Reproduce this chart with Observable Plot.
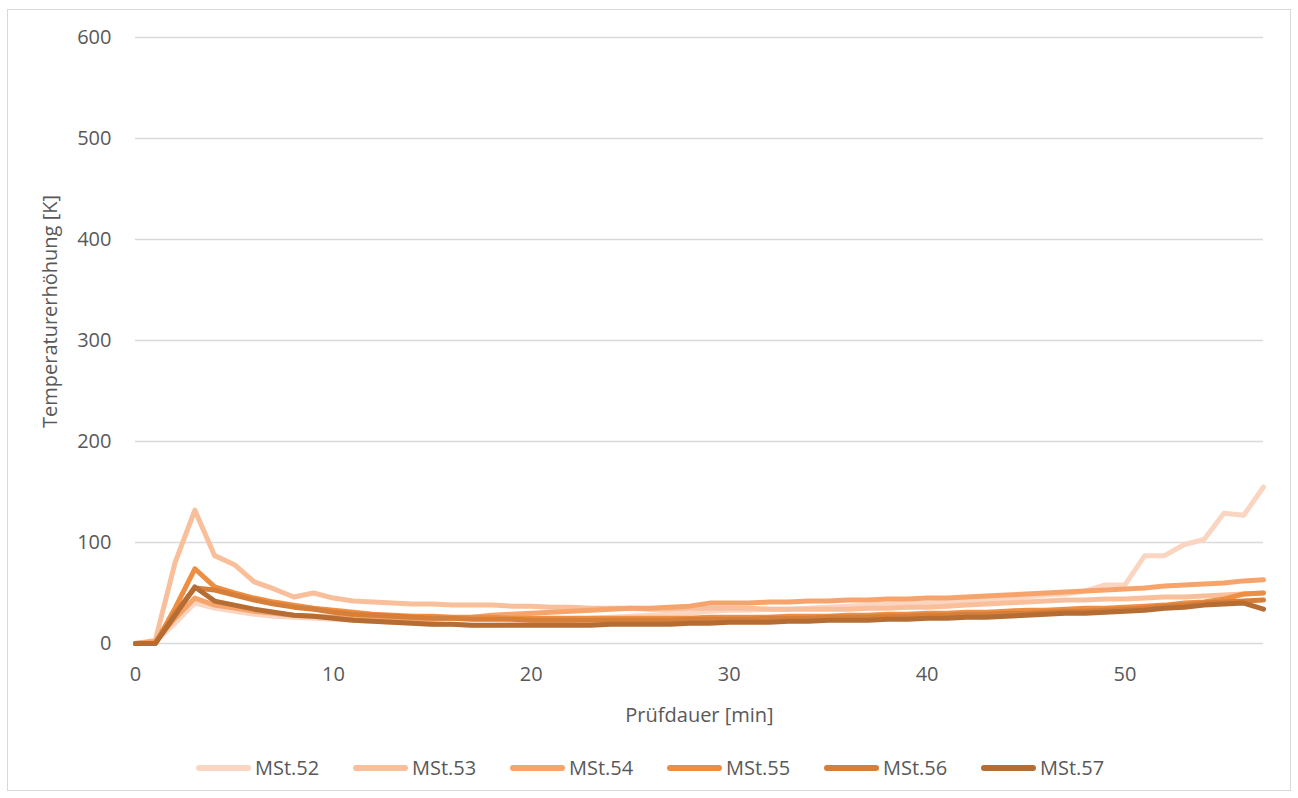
<!DOCTYPE html>
<html>
<head>
<meta charset="utf-8">
<script src="https://cdn.jsdelivr.net/npm/d3@7"></script>
<script src="https://cdn.jsdelivr.net/npm/@observablehq/plot@0.6"></script>
<style>
  html, body { margin: 0; padding: 0; background: #fff; }
  body { width: 1298px; height: 798px; position: relative; overflow: hidden; font-family: "Open Sans", sans-serif; }
  #frame { position: absolute; left: 7px; top: 9px; width: 1284px; height: 782px; border: 1px solid #d9d9d9; box-sizing: border-box; }
  #chart { position: absolute; left: 0; top: 0; }
  #legend { position: absolute; left: 196px; top: 754px; display: flex; }
  .item { display: flex; align-items: center; width: 157px; font-size: 20px; color: #595959; }
  .sw { width: 55px; height: 6px; border-radius: 3px; margin-right: 4px; }
</style>
</head>
<body>
<div id="frame"></div>
<div id="chart"></div>
<div id="legend"></div>
<script>
const minutes = [0,1,2,3,4,5,6,7,8,9,10,11,12,13,14,15,16,17,18,19,20,21,22,23,24,25,26,27,28,29,30,31,32,33,34,35,36,37,38,39,40,41,42,43,44,45,46,47,48,49,50,51,52,53,54,55,56,57];

const seriesNames = ["MSt.52","MSt.53","MSt.54","MSt.55","MSt.56","MSt.57"];
const seriesColors = ["#fad5c2","#f9bf9b","#f6a46b","#ee8e42","#d67f3a","#b56d33"];

const mst52 = [0,2,20,40,35,32,29,27,26,25, 24,23,22,21,20,19,19,18,18,19, 20,21,23,25,26,27,28,29,30,32, 33,33,34,34,35,36,37,38,39,40, 40,41,42,43,44,46,48,49,52,58, 58,87,87,98,103,129,127,155];
const mst53 = [0,3,80,132,87,78,61,54,46,50, 45,42,41,40,39,39,38,38,38,37, 37,36,36,35,35,35,34,34,35,35, 35,35,34,34,34,34,34,35,35,36, 36,37,38,39,40,41,42,43,43,44, 44,45,46,46,47,48,49,50];
const mst54 = [0,2,25,45,38,35,32,30,28,27, 26,25,24,24,24,24,25,26,28,29, 30,31,32,33,34,35,35,36,37,40, 40,40,41,41,42,42,43,43,44,44, 45,45,46,47,48,49,50,51,52,53, 54,55,57,58,59,60,62,63];
const mst55 = [0,0,35,74,56,50,45,41,38,35, 33,31,29,28,27,27,26,26,26,25, 25,25,25,25,25,25,25,25,25,26, 26,26,26,27,27,27,28,28,29,29, 30,30,31,31,32,33,33,34,35,35, 36,37,38,40,41,44,49,50];
const mst56 = [0,0,30,55,53,48,43,39,36,34, 31,29,28,27,26,25,25,24,24,24, 23,23,23,23,23,23,23,23,24,24, 24,24,25,25,25,26,26,26,27,27, 28,28,29,29,30,30,31,32,32,33, 34,35,37,38,40,41,42,43];
const mst57 = [0,0,28,56,42,38,34,31,28,27, 25,23,22,21,20,19,19,18,18,18, 18,18,18,18,19,19,19,19,20,20, 21,21,21,22,22,23,23,23,24,24, 25,25,26,26,27,28,29,30,30,31, 32,33,35,36,38,39,40,34];

const xTicks = [0,10,20,30,40,50];
const yTicks = [0,100,200,300,400,500,600];

const allSeries = [mst52, mst53, mst54, mst55, mst56, mst57];
const rows = [];
allSeries.forEach((vals, i) => {
  vals.forEach((v, j) => rows.push({series: seriesNames[i], minute: minutes[j], value: v}));
});

const plot = Plot.plot({
  width: 1298,
  height: 730,
  marginLeft: 135,
  marginRight: 35,
  marginTop: 37,
  marginBottom: 87,
  style: { fontFamily: "Open Sans, sans-serif", fontSize: "20px", color: "#595959", background: "transparent", overflow: "visible" },
  x: { domain: [0, 57], ticks: xTicks },
  y: { domain: [0, 600], ticks: yTicks },
  color: { domain: seriesNames, range: seriesColors },
  marks: [
    Plot.gridY(yTicks, { stroke: "#d9d9d9", strokeOpacity: 1, strokeWidth: 1.3 }),
    Plot.axisY(yTicks, { tickSize: 0, tickPadding: 24, fontSize: 20, fill: "#595959", label: null }),
    Plot.axisX(xTicks, { tickSize: 0, tickPadding: 23, fontSize: 20, fill: "#595959",
      label: "Prüfdauer [min]", labelAnchor: "center", labelArrow: "none", labelOffset: 78 }),
    Plot.text(["Temperaturerhöhung [K]"], { frameAnchor: "left", textAnchor: "middle", dx: -85, dy: -29, rotate: -90,
      fontSize: 20, fill: "#595959" }),
    Plot.line(rows, { x: "minute", y: "value", stroke: "series", z: "series", strokeWidth: 5,
      strokeLinejoin: "round", strokeLinecap: "round" })
  ]
});
document.getElementById("chart").appendChild(plot);

const legend = document.getElementById("legend");
seriesNames.forEach((name, i) => {
  const item = document.createElement("div");
  item.className = "item";
  const sw = document.createElement("div");
  sw.className = "sw";
  sw.style.background = seriesColors[i];
  const t = document.createElement("span");
  t.textContent = name;
  item.appendChild(sw);
  item.appendChild(t);
  legend.appendChild(item);
});
</script>
</body>
</html>
